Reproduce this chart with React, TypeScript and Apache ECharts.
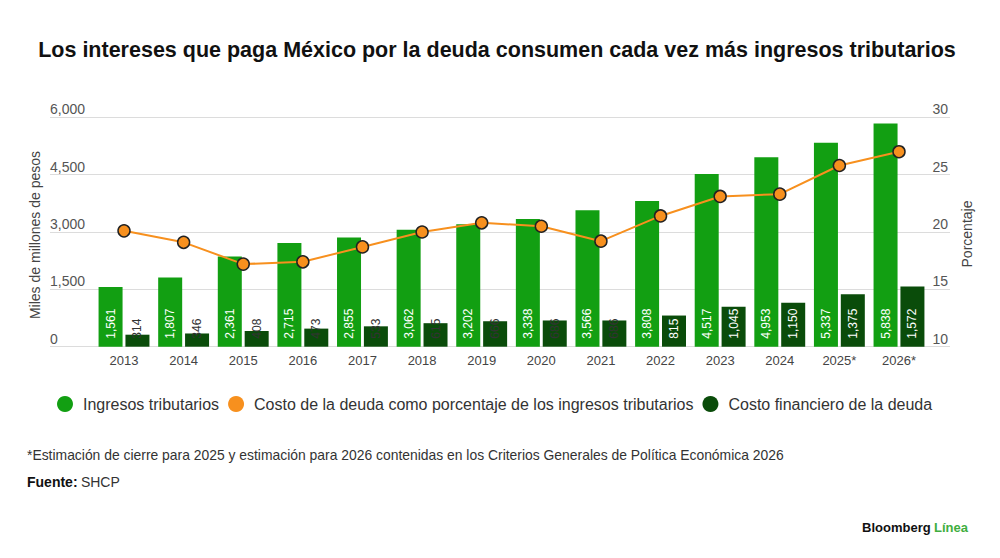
import React, { useEffect, useRef } from "react";
import * as echarts from "echarts";

const categories = ["2013", "2014", "2015", "2016", "2017", "2018", "2019", "2020", "2021", "2022", "2023", "2024", "2025*", "2026*"];
const ingresosTributarios = [1561, 1807, 2361, 2715, 2855, 3062, 3202, 3338, 3566, 3808, 4517, 4953, 5337, 5838];
const costoFinanciero = [314, 346, 408, 473, 533, 615, 666, 686, 686, 815, 1045, 1150, 1375, 1572];
const costoPorcentaje = [20.1, 19.1, 17.2, 17.4, 18.7, 20.0, 20.8, 20.5, 19.2, 21.4, 23.1, 23.3, 25.8, 27.0];

const FONT = "'Liberation Sans', Arial, sans-serif";
const GREEN = "#129f12";
const DARK = "#0a4c0a";
const ORANGE = "#f7901e";

const fmt = (v: number) => v.toLocaleString("en-US");

export default function App() {
  const ref = useRef<HTMLDivElement>(null);
  useEffect(() => {
    document.body.style.margin = "0";
    if (!ref.current) return;
    const chart = echarts.init(ref.current, undefined, { renderer: "svg" });
    const top = 117.3;
    const bottom = 558 - 346.7;
    chart.setOption({
      animation: false,
      backgroundColor: "#ffffff",
      textStyle: { fontFamily: FONT },
      grid: [
        { left: 94.2, right: 71.2, top, bottom },
        { left: 50, right: 50, top, bottom },
      ],
      xAxis: [
        {
          type: "category",
          gridIndex: 0,
          data: categories,
          axisLine: { show: false },
          axisTick: { show: false },
          axisLabel: { color: "#444", fontSize: 13, margin: 7, fontFamily: FONT },
        },
        { type: "value", gridIndex: 1, show: false, min: 0, max: 1 },
      ],
      yAxis: [
        { type: "value", gridIndex: 0, min: 0, max: 6000, interval: 1500, show: false },
        { type: "value", gridIndex: 0, min: 10, max: 30, interval: 5, show: false, position: "right" },
        {
          type: "value",
          gridIndex: 1,
          min: 0,
          max: 6000,
          interval: 1500,
          position: "left",
          axisLine: { show: false },
          axisTick: { show: false },
          splitLine: { lineStyle: { color: "#dcdcdc", width: 1 } },
          axisLabel: {
            inside: true,
            margin: 0,
            verticalAlign: "bottom",
            padding: [0, 0, 1, 0],
            color: "#555",
            fontSize: 14,
            fontFamily: FONT,
            formatter: (v: number) => fmt(v),
          },
        },
        {
          type: "value",
          gridIndex: 1,
          min: 10,
          max: 30,
          interval: 5,
          position: "right",
          axisLine: { show: false },
          axisTick: { show: false },
          splitLine: { show: false },
          axisLabel: {
            inside: true,
            margin: 2,
            verticalAlign: "bottom",
            padding: [0, 0, 1, 0],
            color: "#555",
            fontSize: 14,
            fontFamily: FONT,
          },
        },
      ],
      legend: {
        left: 57,
        top: 396,
        padding: 0,
        icon: "circle",
        itemWidth: 16,
        itemHeight: 16,
        itemGap: 9,
        itemStyle: { borderWidth: 0 },
        textStyle: { fontSize: 16, color: "#333", fontFamily: FONT, padding: [0, 0, 0, 5] },
        data: [
          { name: "Ingresos tributarios", itemStyle: { color: GREEN, borderWidth: 0 } },
          { name: "Costo de la deuda como porcentaje de los ingresos tributarios", itemStyle: { color: ORANGE, borderWidth: 0 } },
          { name: "Costo financiero de la deuda", itemStyle: { color: DARK, borderWidth: 0 } },
        ],
      },
      series: [
        {
          name: "Ingresos tributarios",
          type: "bar",
          xAxisIndex: 0,
          yAxisIndex: 0,
          data: ingresosTributarios,
          barWidth: 24,
          barGap: "12%",
          itemStyle: { color: GREEN },
          label: {
            show: true,
            position: "insideBottom",
            rotate: 90,
            align: "left",
            verticalAlign: "middle",
            distance: 8,
            color: "#ffffff",
            fontSize: 12,
            fontFamily: FONT,
            formatter: (p: any) => fmt(p.value),
          },
        },
        {
          name: "Costo financiero de la deuda",
          type: "bar",
          xAxisIndex: 0,
          yAxisIndex: 0,
          barWidth: 24,
          data: costoFinanciero.map((v) => ({
            value: v,
            label: { color: v < 800 ? "#333333" : "#ffffff" },
          })),
          itemStyle: { color: DARK },
          label: {
            show: true,
            position: "insideBottom",
            rotate: 90,
            align: "left",
            verticalAlign: "middle",
            distance: 8,
            fontSize: 12,
            fontFamily: FONT,
            formatter: (p: any) => fmt(p.value),
          },
        },
        {
          name: "Costo de la deuda como porcentaje de los ingresos tributarios",
          type: "line",
          xAxisIndex: 0,
          yAxisIndex: 1,
          data: costoPorcentaje,
          symbol: "circle",
          symbolSize: 12,
          lineStyle: { color: ORANGE, width: 2 },
          itemStyle: { color: ORANGE, borderColor: "#222", borderWidth: 1.5 },
          z: 5,
        },
      ],
      graphic: [
        {
          type: "text",
          x: 497,
          y: 50,
          style: {
            text: "Los intereses que paga México por la deuda consumen cada vez más ingresos tributarios",
            font: `bold 21.5px ${FONT}`,
            fill: "#111",
            align: "center",
            verticalAlign: "middle",
          },
        },
        {
          type: "text",
          x: 35,
          y: 235,
          rotation: Math.PI / 2,
          style: {
            text: "Miles de millones de pesos",
            font: `14px ${FONT}`,
            fill: "#444",
            align: "center",
            verticalAlign: "middle",
          },
        },
        {
          type: "text",
          x: 967,
          y: 234,
          rotation: Math.PI / 2,
          style: {
            text: "Porcentaje",
            font: `14px ${FONT}`,
            fill: "#444",
            align: "center",
            verticalAlign: "middle",
          },
        },
        {
          type: "text",
          x: 27,
          y: 455,
          style: {
            text: "*Estimación de cierre para 2025 y estimación para 2026 contenidas en los Criterios Generales de Política Económica 2026",
            font: `13.9px ${FONT}`,
            fill: "#333",
            verticalAlign: "middle",
          },
        },
        {
          type: "text",
          x: 27,
          y: 482,
          style: {
            text: "{b|Fuente:} {r|SHCP}",
            verticalAlign: "middle",
            rich: {
              b: { font: `bold 14px ${FONT}`, fill: "#111" },
              r: { font: `14px ${FONT}`, fill: "#333" },
            },
          },
        },
        {
          type: "text",
          x: 968,
          y: 527,
          style: {
            text: "{b|Bloomberg} {g|Línea}",
            align: "right",
            verticalAlign: "middle",
            rich: {
              b: { font: `bold 13px ${FONT}`, fill: "#111" },
              g: { font: `bold 13px ${FONT}`, fill: "#3fae3f" },
            },
          },
        },
      ],
    });
    return () => chart.dispose();
  }, []);
  return <div ref={ref} style={{ width: 1000, height: 558 }} />;
}
